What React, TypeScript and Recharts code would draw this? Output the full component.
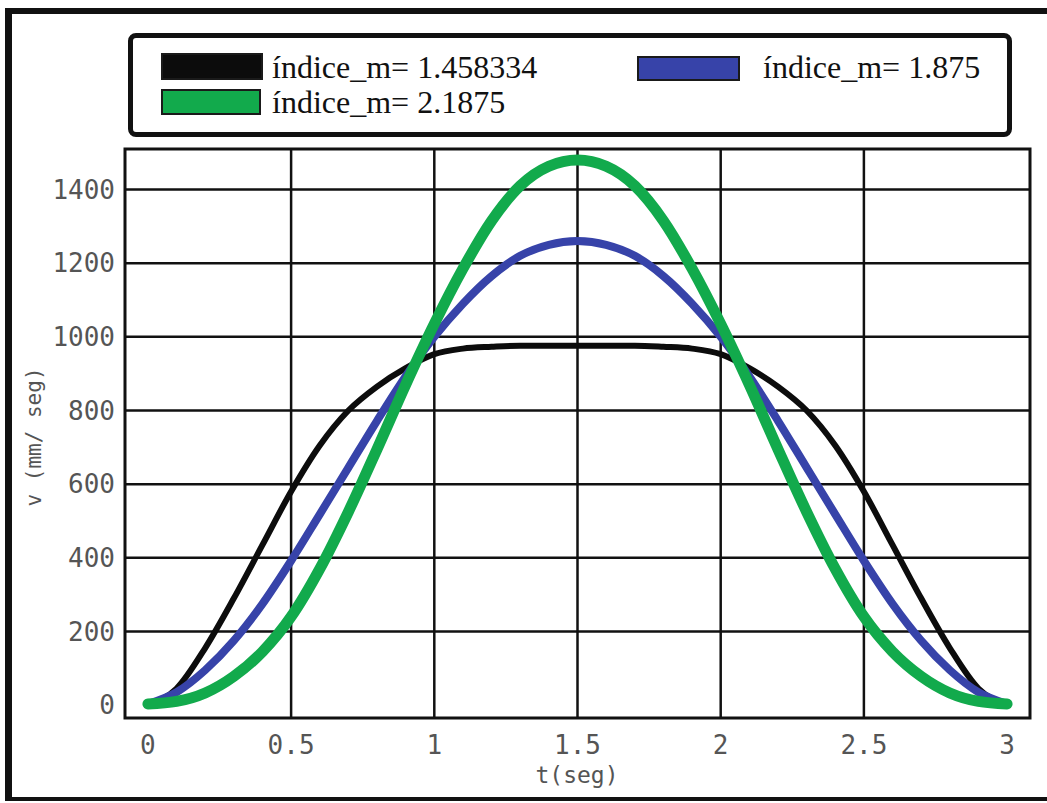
import {
  CartesianGrid,
  Legend,
  Line,
  LineChart,
  ReferenceArea,
  XAxis,
  YAxis,
} from 'recharts'

// tiempo (seg)
const tiempo = [
  0, 0.1, 0.2, 0.3, 0.4, 0.5, 0.6, 0.7, 0.8, 0.9, 1, 1.1, 1.2, 1.3, 1.4, 1.5,
  1.6, 1.7, 1.8, 1.9, 2, 2.1, 2.2, 2.3, 2.4, 2.5, 2.6, 2.7, 2.8, 2.9, 3,
]

// velocidad (mm/seg) por serie
const vNegro = [
  0, 45, 155, 290, 435, 580, 705, 800, 865, 915, 953, 968, 973, 976, 976, 976,
  976, 976, 973, 968, 953, 915, 865, 800, 705, 580, 435, 290, 155, 45, 0,
]
const vAzul = [
  3, 35, 95, 175, 275, 392, 518, 645, 772, 893, 1000, 1090, 1165, 1220, 1250,
  1260, 1250, 1220, 1165, 1090, 1000, 893, 772, 645, 518, 392, 275, 175, 95,
  35, 3,
]
const vVerde = [
  3, 10, 33, 78, 145, 240, 370, 525, 695, 870, 1035, 1185, 1315, 1410, 1463,
  1480, 1463, 1410, 1315, 1185, 1035, 870, 695, 525, 370, 240, 145, 78, 33, 10,
  3,
]

const nombres = ['índice_m= 1.458334', 'índice_m= 1.875', 'índice_m= 2.1875']

const xTicks = [0, 0.5, 1, 1.5, 2, 2.5, 3]
const yTicks = [0, 200, 400, 600, 800, 1000, 1200, 1400]
const xGrid = [0.5, 1, 1.5, 2, 2.5]
const yGrid = [200, 400, 600, 800, 1000, 1200, 1400]
const xMinor = [
  0.1, 0.2, 0.3, 0.4, 0.6, 0.7, 0.8, 0.9, 1.1, 1.2, 1.3, 1.4, 1.6, 1.7, 1.8,
  1.9, 2.1, 2.2, 2.3, 2.4, 2.6, 2.7, 2.8, 2.9,
]
const yMinor = [
  50, 100, 150, 250, 300, 350, 450, 500, 550, 650, 700, 750, 850, 900, 950,
  1050, 1100, 1150, 1250, 1300, 1350, 1450,
]

const data = tiempo.map((t, i) => ({
  t,
  m1: vNegro[i],
  m2: vAzul[i],
  m3: vVerde[i],
}))

const X_DOMAIN: [number, number] = [-0.08, 3.08]
const Y_DOMAIN: [number, number] = [-35, 1510]

const colores = ['#0c0c0c', '#3743a9', '#12aa4c']

const mono = '"DejaVu Sans Mono", monospace'
const serif = '"Liberation Serif", "Times New Roman", serif'

function Caja({ left, top, width, height, color }: any) {
  return (
    <div
      style={{
        position: 'absolute',
        left,
        top,
        width,
        height,
        background: color,
        border: '2px solid #1a1a1a',
        boxSizing: 'border-box',
      }}
    />
  )
}

function Texto({ left, top, children }: any) {
  return (
    <div
      style={{
        position: 'absolute',
        left,
        top,
        fontFamily: serif,
        fontSize: 32,
        lineHeight: '32px',
        color: '#111',
        whiteSpace: 'nowrap',
      }}
    >
      {children}
    </div>
  )
}

function Leyenda() {
  return (
    <div
      style={{
        position: 'relative',
        width: 884,
        height: 104,
        border: '5px solid #111',
        borderRadius: 8,
        boxSizing: 'border-box',
        background: '#fff',
      }}
    >
      <Caja left={28} top={15} width={102} height={27} color={colores[0]} />
      <Texto left={139} top={13}>{nombres[0]}</Texto>
      <Caja left={504} top={18} width={103} height={25} color={colores[1]} />
      <Texto left={630} top={13}>{nombres[1]}</Texto>
      <Caja left={28} top={51} width={100} height={26} color={colores[2]} />
      <Texto left={139} top={48}>{nombres[2]}</Texto>
    </div>
  )
}

export default function App() {
  return (
    <div
      style={{
        position: 'absolute',
        left: 0,
        top: 0,
        width: 1047,
        height: 803,
        background: '#fff',
        overflow: 'hidden',
      }}
    >
      <LineChart
        width={1047}
        height={803}
        data={data}
        margin={{ top: 149, right: 17, bottom: 25, left: 0 }}
      >
        <CartesianGrid
          stroke="#111"
          strokeWidth={2.5}
          verticalValues={xGrid}
          horizontalValues={yGrid}
        />
        <XAxis
          dataKey="t"
          type="number"
          domain={X_DOMAIN}
          ticks={xTicks}
          allowDataOverflow
          height={60}
          axisLine={false}
          tickLine={false}
          tickSize={0}
          tickMargin={18}
          tick={{ fontFamily: mono, fontSize: 26, fill: '#555' }}
        />
        <XAxis
          xAxisId="top"
          dataKey="t"
          type="number"
          orientation="top"
          domain={X_DOMAIN}
          ticks={xMinor}
          allowDataOverflow
          height={0}
          mirror
          axisLine={false}
          tickSize={5}
          tickLine={{ stroke: '#888', strokeWidth: 1.5 }}
          tickFormatter={() => ''}
        />
        <YAxis
          type="number"
          domain={Y_DOMAIN}
          ticks={yTicks}
          allowDataOverflow
          width={125}
          axisLine={false}
          tickLine={false}
          tickSize={0}
          tickMargin={10}
          tick={{ fontFamily: mono, fontSize: 26, fill: '#555' }}
        />
        <YAxis
          yAxisId="right"
          type="number"
          orientation="right"
          domain={Y_DOMAIN}
          ticks={yMinor}
          allowDataOverflow
          width={0}
          mirror
          axisLine={false}
          tickSize={5}
          tickLine={{ stroke: '#999', strokeWidth: 1.5 }}
          tickFormatter={() => ''}
        />
        <Legend
          verticalAlign="middle"
          align="center"
          wrapperStyle={{ position: 'absolute', left: 128, top: 33, width: 884, height: 104 }}
          content={() => <Leyenda />}
        />
        <Line
          type="monotone"
          dataKey="m1"
          name={nombres[0]}
          stroke={colores[0]}
          strokeWidth={6}
          strokeLinecap="round"
          dot={false}
          isAnimationActive={false}
        />
        <Line
          type="monotone"
          dataKey="m2"
          name={nombres[1]}
          stroke={colores[1]}
          strokeWidth={8}
          strokeLinecap="round"
          dot={false}
          isAnimationActive={false}
        />
        <Line
          type="monotone"
          dataKey="m3"
          name={nombres[2]}
          stroke={colores[2]}
          strokeWidth={11}
          strokeLinecap="round"
          dot={false}
          isAnimationActive={false}
        />
        <ReferenceArea
          x1={X_DOMAIN[0]}
          x2={X_DOMAIN[1]}
          y1={Y_DOMAIN[0]}
          y2={Y_DOMAIN[1]}
          fill="none"
          stroke="#111"
          strokeWidth={3}
        />
      </LineChart>
      <div
        style={{
          position: 'absolute',
          left: 577,
          top: 762,
          transform: 'translateX(-50%)',
          fontFamily: mono,
          fontSize: 23,
          lineHeight: '27px',
          color: '#555',
          whiteSpace: 'nowrap',
        }}
      >
        t(seg)
      </div>
      <div
        style={{
          position: 'absolute',
          left: 34,
          top: 437,
          transform: 'translate(-50%, -50%) rotate(-90deg)',
          fontFamily: mono,
          fontSize: 21,
          lineHeight: '21px',
          color: '#555',
          whiteSpace: 'nowrap',
        }}
      >
        v (mm/ seg)
      </div>
      <div
        style={{
          position: 'absolute',
          left: 5,
          top: 8,
          width: 1042,
          height: 793,
          borderTop: '6px solid #111',
          borderLeft: '7px solid #111',
          borderBottom: '4px solid #111',
          boxSizing: 'border-box',
          pointerEvents: 'none',
        }}
      />
    </div>
  )
}
